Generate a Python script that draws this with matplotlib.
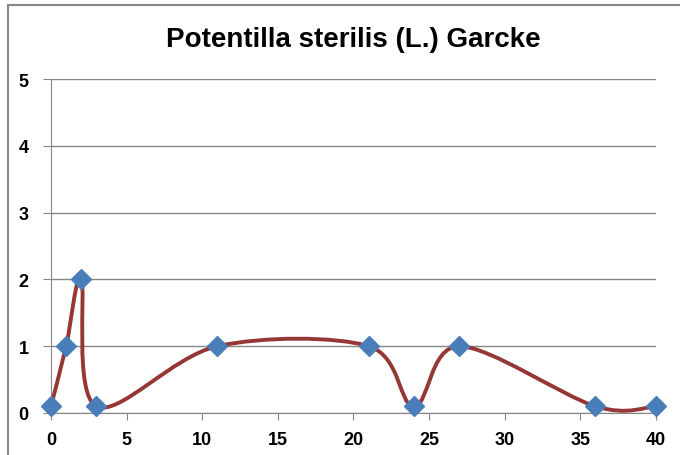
import matplotlib.pyplot as plt
import numpy as np
from matplotlib.path import Path
from matplotlib.patches import PathPatch, Rectangle

plt.rcParams['font.family'] = ['Liberation Sans', 'DejaVu Sans']

# data
days = [0, 1, 2, 3, 11, 21, 24, 27, 36, 40]
values = [0.1, 1, 2, 0.1, 1, 1, 0.1, 1, 0.1, 0.1]
title = 'Potentilla sterilis (L.) Garcke'


def smooth_path(x, y):
    # Excel-like smoothed line: cubic Bezier through points (Catmull-Rom)
    p = np.column_stack([x, y]).astype(float)
    n = len(p)
    verts = [p[0]]
    codes = [Path.MOVETO]
    for i in range(n - 1):
        p0 = p[i - 1] if i > 0 else p[i]
        p3 = p[i + 2] if i + 2 < n else p[i + 1]
        c1 = p[i] + (p[i + 1] - p0) / 6
        c2 = p[i + 1] - (p3 - p[i]) / 6
        verts += [c1, c2, p[i + 1]]
        codes += [Path.CURVE4] * 3
    return Path(verts, codes)


fig = plt.figure(figsize=(6.8, 4.56), dpi=100)
ax = fig.add_axes([51 / 680, 1 - 414 / 456, 605 / 680, 334 / 456])

# outer chart border
fig.patches.append(Rectangle((8 / 680, -0.05), 1.05, 1 - 6 / 456 + 0.05,
                             transform=fig.transFigure, fill=False,
                             edgecolor='#868686', linewidth=1.5))

ax.add_patch(PathPatch(smooth_path(days, values), facecolor='none',
                       edgecolor='#953735', linewidth=2.8, zorder=3))
ax.plot(days, values, linestyle='none', marker='D', markersize=10.5,
        color='#4a7ebb', zorder=4, clip_on=False)

ax.set_xlim(0, 40)
ax.set_ylim(0, 5)
ax.set_xticks(range(0, 41, 5))
ax.set_yticks(range(0, 6))
ax.grid(axis='y', color='#868686', linewidth=1)
ax.set_axisbelow(True)
for s in ['top', 'right']:
    ax.spines[s].set_visible(False)
for s in ['left', 'bottom']:
    ax.spines[s].set_color('#868686')
ax.tick_params(axis='x', length=5, color='#868686', pad=8)
ax.tick_params(axis='y', length=6, color='#868686', pad=10)
for lab in ax.get_xticklabels() + ax.get_yticklabels():
    lab.set_fontweight('bold')
    lab.set_fontsize(13)

fig.text(353 / 680, 1 - 40 / 456, title, ha='center', va='center',
         fontsize=20, fontweight='bold')

fig.savefig('out.png', dpi=100)
